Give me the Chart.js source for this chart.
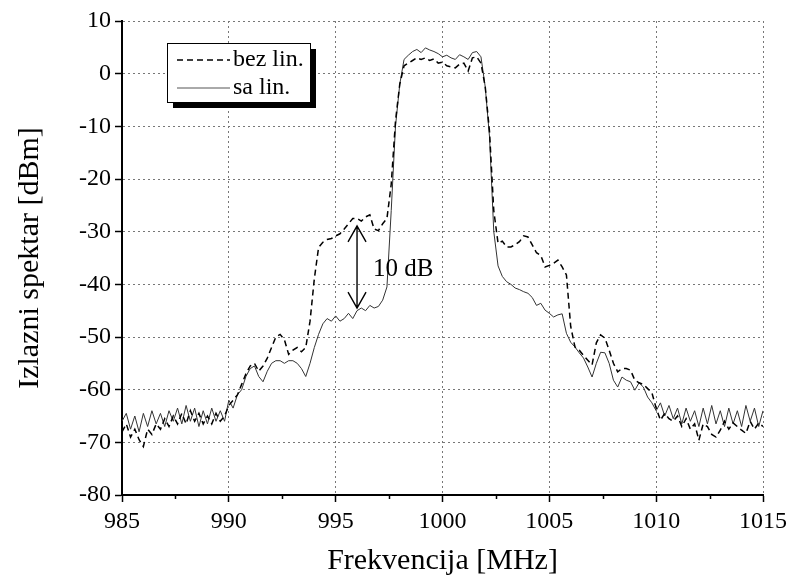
<!DOCTYPE html>
<html>
<head>
<meta charset="utf-8">
<script src="https://cdn.jsdelivr.net/npm/chart.js@4.4.0/dist/chart.umd.min.js"></script>
<style>
html, body { margin: 0; padding: 0; background: #fff; }
#wrap { width: 792px; height: 583px; position: relative; }
</style>
</head>
<body>
<div id="wrap"><canvas id="chartData"></canvas></div>
<script>
var serif = '"Liberation Serif", "Times New Roman", serif';

// frekvencija [MHz]
var freqs = [
  985, 985.2, 985.4, 985.6, 985.8, 986, 986.2, 986.4, 986.6, 986.8,
  987, 987.2, 987.4, 987.6, 987.8, 988, 988.2, 988.4, 988.6, 988.8,
  989, 989.2, 989.4, 989.6, 989.8, 990, 990.2, 990.4, 990.6, 990.8,
  991, 991.2, 991.4, 991.6, 991.8, 992, 992.2, 992.4, 992.6, 992.8,
  993, 993.2, 993.4, 993.6, 993.8, 994, 994.2, 994.4, 994.6, 994.8,
  995, 995.2, 995.4, 995.6, 995.8, 996, 996.2, 996.4, 996.6, 996.8,
  997, 997.2, 997.4, 997.6, 997.8, 998, 998.2, 998.4, 998.6, 998.8,
  999, 999.2, 999.4, 999.6, 999.8, 1000, 1000.2, 1000.4, 1000.6, 1000.8,
  1001, 1001.2, 1001.4, 1001.6, 1001.8, 1002, 1002.2, 1002.4, 1002.6, 1002.8,
  1003, 1003.2, 1003.4, 1003.6, 1003.8, 1004, 1004.2, 1004.4, 1004.6, 1004.8,
  1005, 1005.2, 1005.4, 1005.6, 1005.8, 1006, 1006.2, 1006.4, 1006.6, 1006.8,
  1007, 1007.2, 1007.4, 1007.6, 1007.8, 1008, 1008.2, 1008.4, 1008.6, 1008.8,
  1009, 1009.2, 1009.4, 1009.6, 1009.8, 1010, 1010.2, 1010.4, 1010.6, 1010.8,
  1011, 1011.2, 1011.4, 1011.6, 1011.8, 1012, 1012.2, 1012.4, 1012.6, 1012.8,
  1013, 1013.2, 1013.4, 1013.6, 1013.8, 1014, 1014.2, 1014.4, 1014.6, 1014.8,
  1015
];

// bez linearizacije (isprekidana linija) [dBm]
var bezLin = [
  -68, -66.5, -69, -67.5, -69.5, -70.8, -67.5, -68.5, -66.5, -67.5,
  -65.5, -67, -65, -66.5, -64.5, -66.5, -64, -66, -64.5, -66.5,
  -65, -66.5, -64.5, -66, -65, -63, -62, -61, -59, -57,
  -55.5, -55, -56.5, -55.5, -54, -52, -50, -49.5, -50.5, -53.3,
  -52.5, -52, -52.8, -52, -47, -39, -33, -32, -31.5, -31.3,
  -30.8, -30.4, -29.5, -28.5, -27.5, -27.5, -28, -27.2, -26.8, -29.5,
  -29.8, -28.5, -27.5, -21, -9, -2, 1.5, 2, 2.5, 3,
  2.7, 3, 2.5, 2.8, 2, 2.2, 1.5, 1.3, 1.1, 1.8,
  2, 0.5, 3, 3.2, 2, -2.5, -11, -26, -32.2, -31.8,
  -32.9, -32.9, -32.5, -31.9, -30.8, -31, -32.5, -34, -34.5, -36.7,
  -36.4, -36, -35.4, -36.7, -38.2, -48, -51.9, -52.5, -53.5, -54.4,
  -55.3, -51.1, -49.6, -50.2, -52.5, -55, -56.6, -56, -56, -56.3,
  -58.2, -58.7, -59, -59.8, -60.6, -63.5, -65.8, -64.5, -65.5, -66,
  -65, -67, -65.5, -67.5, -66.5, -69.6, -66.5, -67, -68.5, -69,
  -67.7, -66, -67.5, -66.3, -67, -67.7, -68.3, -66, -67.5, -66.3,
  -67
];

// sa linearizacijom (puna linija) [dBm]
var saLin = [
  -66, -64.5, -67.5, -65, -68, -64.5, -67, -64, -66.5, -64.5,
  -67, -64, -66, -63.5, -66.5, -63, -66, -63.5, -67, -64,
  -66.5, -63.5, -66, -64, -66, -62, -63.5, -61, -60, -57.5,
  -56, -55.5, -57.5, -58.5, -56.5, -55, -54.5, -54.5, -55, -54.5,
  -54.5, -55, -56, -57.5, -55, -52, -49.5, -47.5, -46.5, -47,
  -46, -47, -46.5, -45.5, -46.5, -45, -44.5, -45, -44, -44.5,
  -44.2, -43, -40.5, -26, -10, -2, 2.7, 3.5, 4.2, 4.6,
  4, 4.9, 4.5, 4.2, 3.8, 3.2, 3.5, 3, 2.7, 3.6,
  3.2, 2.7, 4, 4.2, 3.2, -2.5, -12, -30, -36.5, -38.5,
  -39.5, -40, -40.7, -41, -41.4, -41.7, -42.5, -44, -43.6, -44.9,
  -45.5, -46.2, -45.8, -45.6, -49.3, -51, -51.9, -53, -54, -55.7,
  -57.6, -55, -52.9, -53, -55, -58.2, -59.5, -57.6, -58.2, -58.5,
  -60.1, -58.7, -59.5, -61.4, -62.5, -64, -62.5, -65, -63, -65.5,
  -63.5, -66.5, -63.5, -66, -64, -67, -63.5, -66.5, -63, -66.5,
  -64, -67, -63.5, -66.5, -64, -67, -63, -66, -63.5, -67,
  -64
];

var seriesNames = ['bez lin.', 'sa lin.'];

// strelica "10 dB"
var arrowFreq = 996;
var arrowTop = -28.9;
var arrowBottom = -44.5;
var arrowLabel = '10 dB';

function toPoints(vals) {
  return freqs.map(function (f, i) { return { x: f, y: vals[i] }; });
}

function isMajorX(v) { return v % 5 === 0; }
function isMajorY(v) { return v % 10 === 0; }

var extras = {
  id: 'extras',
  afterDraw: function (chart) {
    // kratke (sporedne) crtice na osama
    var c = chart.ctx;
    var xs = chart.scales.x, ys = chart.scales.y;
    var area = chart.chartArea;
    c.save();
    c.strokeStyle = '#000';
    c.lineWidth = 1.5;
    c.beginPath();
    xs.ticks.forEach(function (t) {
      if (isMajorX(t.value)) return;
      var px = Math.round(xs.getPixelForValue(t.value)) + 0.5;
      c.moveTo(px, area.bottom); c.lineTo(px, area.bottom + 4);
    });
    ys.ticks.forEach(function (t) {
      if (isMajorY(t.value)) return;
      var py = Math.round(ys.getPixelForValue(t.value)) + 0.5;
      c.moveTo(area.left, py); c.lineTo(area.left - 4, py);
    });
    c.stroke();
    c.restore();
  },
  afterDatasetsDraw: function (chart) {
    var c = chart.ctx;
    var xs = chart.scales.x, ys = chart.scales.y;
    var area = chart.chartArea;

    // strelica
    var ax = xs.getPixelForValue(arrowFreq);
    var y1 = ys.getPixelForValue(arrowTop);
    var y2 = ys.getPixelForValue(arrowBottom);
    c.save();
    c.strokeStyle = '#000';
    c.lineWidth = 1.4;
    c.beginPath();
    c.moveTo(ax, y1); c.lineTo(ax, y2);
    c.moveTo(ax - 9, y1 + 16); c.lineTo(ax, y1); c.lineTo(ax + 9, y1 + 16);
    c.moveTo(ax - 9, y2 - 16); c.lineTo(ax, y2); c.lineTo(ax + 9, y2 - 16);
    c.stroke();
    c.fillStyle = '#000';
    c.font = '25px ' + serif;
    c.textBaseline = 'middle';
    c.textAlign = 'left';
    c.fillText(arrowLabel, ax + 16, ys.getPixelForValue(-37.2));

    // legenda sa senkom
    var lx = area.left + 45, ly = area.top + 22, lw = 143, lh = 59;
    c.fillStyle = '#000';
    c.fillRect(lx + 6, ly + 6, lw, lh);
    c.fillStyle = '#fff';
    c.fillRect(lx, ly, lw, lh);
    c.lineWidth = 1;
    c.strokeRect(lx + 0.5, ly + 0.5, lw, lh);

    c.beginPath();
    c.setLineDash([6, 4]);
    c.lineWidth = 1.5;
    c.moveTo(lx + 10, ly + 17); c.lineTo(lx + 63, ly + 17);
    c.stroke();
    c.setLineDash([]);
    c.strokeStyle = '#555';
    c.lineWidth = 1;
    c.beginPath();
    c.moveTo(lx + 10, ly + 45); c.lineTo(lx + 63, ly + 45);
    c.stroke();

    c.fillStyle = '#000';
    c.font = '24px ' + serif;
    c.fillText(seriesNames[0], lx + 66, ly + 17);
    c.fillText(seriesNames[1], lx + 66, ly + 45);
    c.restore();
  }
};

var ctx = document.getElementById('chartData').getContext('2d');
var chartData = new Chart(ctx, {
  type: 'line',
  data: {
    datasets: [{
      label: seriesNames[0],
      data: toPoints(bezLin),
      borderColor: '#000',
      borderWidth: 1.5,
      borderDash: [6, 4],
      pointRadius: 0,
      tension: 0
    }, {
      label: seriesNames[1],
      data: toPoints(saLin),
      borderColor: '#333',
      borderWidth: 1,
      pointRadius: 0,
      tension: 0
    }]
  },
  options: {
    responsive: true,
    maintainAspectRatio: false,
    animation: false,
    layout: { padding: { top: 21, right: 26, left: 0, bottom: 0 } },
    plugins: {
      legend: { display: false },
      tooltip: { enabled: false }
    },
    scales: {
      x: {
        type: 'linear',
        min: 985,
        max: 1015,
        afterFit: function (s) { s.height = 88; },
        ticks: {
          stepSize: 2.5,
          color: '#000',
          padding: 5,
          maxRotation: 0,
          font: { family: serif, size: 24 },
          callback: function (v) { return isMajorX(v) ? v : ''; }
        },
        grid: {
          color: function (c) { return c.tick && isMajorX(c.tick.value) ? '#777' : 'rgba(0,0,0,0)'; },
          tickColor: function (c) { return c.tick && isMajorX(c.tick.value) ? '#000' : 'rgba(0,0,0,0)'; },
          tickLength: 7,
          tickWidth: 1.5
        },
        border: { display: true, color: '#000', width: 2, dash: [2, 3] },
        title: {
          display: true,
          text: 'Frekvencija [MHz]',
          color: '#000',
          font: { family: serif, size: 30 },
          padding: { top: 8 }
        }
      },
      y: {
        min: -80,
        max: 10,
        afterFit: function (s) { s.width = 122; },
        ticks: {
          stepSize: 5,
          color: '#000',
          padding: 4,
          font: { family: serif, size: 24 },
          callback: function (v) { return isMajorY(v) ? v : ''; }
        },
        grid: {
          color: function (c) { return c.tick && isMajorY(c.tick.value) ? '#777' : 'rgba(0,0,0,0)'; },
          tickColor: function (c) { return c.tick && isMajorY(c.tick.value) ? '#000' : 'rgba(0,0,0,0)'; },
          tickLength: 7,
          tickWidth: 1.5
        },
        border: { display: true, color: '#000', width: 2, dash: [2, 3] },
        title: {
          display: true,
          text: 'Izlazni spektar [dBm]',
          color: '#000',
          font: { family: serif, size: 30 },
          padding: { top: 12, bottom: 4 }
        }
      }
    }
  },
  plugins: [extras]
});
</script>
</body>
</html>
